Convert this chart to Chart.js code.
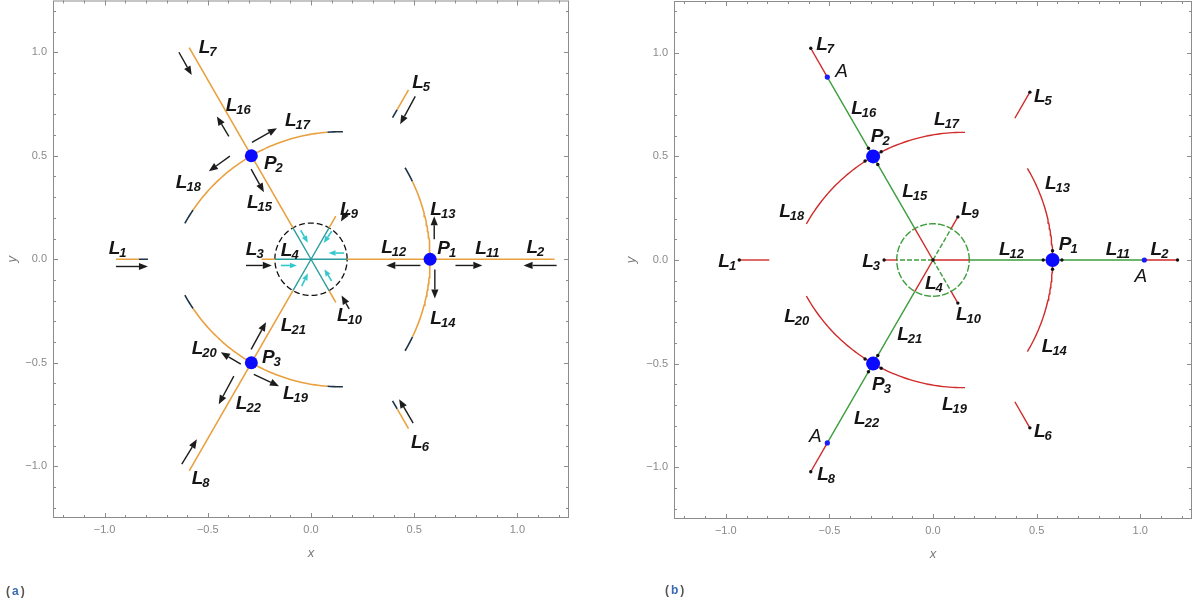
<!DOCTYPE html>
<html>
<head>
<meta charset="utf-8">
<script src="https://cdn.jsdelivr.net/npm/chart.js@4.4.1/dist/chart.umd.min.js"></script>
<style>
  body { margin:0; background:#fff; width:1203px; height:606px; overflow:hidden; position:relative; font-family:"Liberation Sans", Arial, sans-serif; }
  #boxA { position:absolute; left:0; top:-6px; width:600px; height:612px; }
  #boxB { position:absolute; left:600px; top:-6px; width:603px; height:612px; }
  .tag { position:absolute; font-size:12px; font-weight:bold; color:#555; letter-spacing:2px; }
  .tag b { color:#3a6bb0; }
</style>
</head>
<body>
<div id="boxA"><canvas id="chartA" width="600" height="612"></canvas></div>
<div id="boxB"><canvas id="chartB" width="603" height="612"></canvas></div>
<div class="tag" style="left:6px;top:584px">(<b>a</b>)</div>
<div class="tag" style="left:665px;top:583px">(<b>b</b>)</div>
<script>
// axis ticks
const majorTicks = [-1, -0.5, 0, 0.5, 1];
const minorTicks = [-1.2, -1.1, -0.9, -0.8, -0.7, -0.6, -0.4, -0.3, -0.2, -0.1,
                    0.1, 0.2, 0.3, 0.4, 0.6, 0.7, 0.8, 0.9, 1.1, 1.2];

// equilibrium points and A points
const pointsP = [[0.577, 0], [-0.289, 0.5], [-0.289, -0.5]];
const pointsA = [[1.02, 0], [-0.51, 0.883], [-0.51, -0.883]];
const innerCircle = { cx: 0, cy: 0, r: 0.175 };

// arcs through P1, P2, P3 (centre, radius, angle range in degrees)
const arcs = [
  { cx: -0.289, cy: 0, r: 0.866, start: -30.7, end: 30.7 },
  { cx: 0.144, cy: -0.25, r: 0.866, start: 89.3, end: 150.7 },
  { cx: 0.144, cy: 0.25, r: 0.866, start: 209.3, end: 270.7 }
];
const arcTip = 5; // dark tip of arcs in (a), degrees

// panel (a) segments
const orangeA = [
  [[0.175, 0], [1.18, 0]],
  [[-0.0875, 0.1516], [-0.59, 1.022]],
  [[-0.0875, -0.1516], [-0.59, -1.022]],
  [[-0.24, 0], [-0.175, 0]],
  [[0.0875, 0.1516], [0.12, 0.208]],
  [[0.0875, -0.1516], [0.12, -0.208]],
  [[-0.945, 0], [-0.835, 0]],
  [[0.4725, 0.818], [0.4175, 0.723]],
  [[0.4725, -0.818], [0.4175, -0.723]]
];
const darkA = [
  [[-0.835, 0], [-0.79, 0]],
  [[0.4175, 0.723], [0.395, 0.684]],
  [[0.4175, -0.723], [0.395, -0.684]]
];
const tealA = [
  [[0, 0], [0.175, 0]], [[0, 0], [0.0875, 0.1516]], [[0, 0], [-0.0875, 0.1516]],
  [[0, 0], [-0.175, 0]], [[0, 0], [-0.0875, -0.1516]], [[0, 0], [0.0875, -0.1516]]
];
const arrowsA = [
  [-0.945, -0.035, -0.79, -0.035], [-0.315, -0.03, -0.19, -0.03],
  [0.53, -0.03, 0.365, -0.03], [0.70, -0.03, 0.83, -0.03], [1.19, -0.03, 1.03, -0.03],
  [0.597, 0.097, 0.597, 0.208], [0.6, -0.05, 0.6, -0.19],
  [0.505, 0.787, 0.432, 0.652], [0.495, -0.792, 0.427, -0.676],
  [-0.64, 1.0, -0.578, 0.89], [-0.398, 0.594, -0.456, 0.69],
  [-0.286, 0.565, -0.165, 0.633], [-0.393, 0.498, -0.495, 0.425],
  [-0.29, 0.435, -0.228, 0.324], [-0.29, -0.435, -0.218, -0.304],
  [-0.34, -0.507, -0.437, -0.449], [-0.277, -0.556, -0.155, -0.613],
  [-0.374, -0.565, -0.447, -0.70], [-0.626, -0.99, -0.553, -0.87],
  [0.18, 0.24, 0.145, 0.182], [0.185, -0.24, 0.148, -0.175]
];
const cyanArrowsA = [
  [-0.146, -0.03, -0.068, -0.03], [-0.05, 0.14, -0.015, 0.08],
  [0.1, 0.135, 0.062, 0.078], [0.16, 0.03, 0.085, 0.03],
  [0.1, -0.105, 0.065, -0.048], [-0.045, -0.13, -0.015, -0.068]
];
const labelsA = [
  ['L', '7', -0.544, 1.03], ['L', '16', -0.413, 0.749], ['L', '17', -0.126, 0.676],
  ['P', '2', -0.228, 0.469], ['L', '18', -0.655, 0.377], ['L', '15', -0.31, 0.28],
  ['L', '1', -0.98, 0.058], ['L', '3', -0.316, 0.055], ['L', '4', -0.146, 0.05],
  ['L', '9', 0.141, 0.25], ['L', '5', 0.49, 0.86], ['L', '13', 0.578, 0.25],
  ['L', '12', 0.34, 0.063], ['P', '1', 0.612, 0.058], ['L', '11', 0.796, 0.058],
  ['L', '2', 1.044, 0.063], ['L', '10', 0.126, -0.266], ['L', '14', 0.578, -0.28],
  ['L', '21', -0.146, -0.314], ['L', '19', -0.136, -0.642], ['L', '6', 0.485, -0.88],
  ['L', '20', -0.578, -0.425], ['P', '3', -0.238, -0.468], ['L', '22', -0.364, -0.69],
  ['L', '8', -0.578, -1.053]
];

// panel (b) segments
const redB = [
  [[0, 0], [0.175, 0]], [[0, 0], [-0.0875, 0.1516]], [[0, 0], [-0.0875, -0.1516]],
  [[1.02, 0], [1.18, 0]], [[-0.51, 0.883], [-0.59, 1.022]], [[-0.51, -0.883], [-0.59, -1.022]],
  [[-0.175, 0], [-0.236, 0]], [[0.0875, 0.1516], [0.12, 0.208]], [[0.0875, -0.1516], [0.12, -0.208]],
  [[-0.79, 0], [-0.935, 0]], [[0.395, 0.684], [0.4675, 0.81]], [[0.395, -0.684], [0.4675, -0.81]]
];
const greenB = [
  [[0.175, 0], [1.02, 0]], [[-0.0875, 0.1516], [-0.51, 0.883]], [[-0.0875, -0.1516], [-0.51, -0.883]]
];
const greenDashB = [
  [[0, 0], [-0.175, 0]], [[0, 0], [0.0875, 0.1516]], [[0, 0], [0.0875, -0.1516]]
];
const dotsB = [
  [-0.59, 1.022], [-0.59, -1.022], [1.18, 0], [-0.935, 0], [0.4675, 0.81], [0.4675, -0.81],
  [-0.236, 0], [0.12, 0.208], [0.12, -0.208], [0, 0],
  [0.532, 0], [0.622, 0], [0.577, 0.045], [0.577, -0.045],
  [-0.3115, 0.539], [-0.2665, 0.461], [-0.25, 0.5225], [-0.328, 0.4775],
  [-0.3115, -0.539], [-0.2665, -0.461], [-0.25, -0.5225], [-0.328, -0.4775]
];
const labelsB = [
  ['L', '7', -0.564, 1.048], ['L', '16', -0.395, 0.74], ['P', '2', -0.3, 0.604],
  ['L', '18', -0.742, 0.242], ['L', '1', -1.036, 0], ['L', '3', -0.342, 0],
  ['L', '17', 0.005, 0.686], ['L', '5', 0.487, 0.797], ['L', '15', -0.149, 0.338],
  ['L', '13', 0.54, 0.377], ['L', '9', 0.135, 0.25], ['L', '12', 0.318, 0.058],
  ['P', '1', 0.607, 0.082], ['L', '11', 0.834, 0.058], ['L', '2', 1.05, 0.058],
  ['L', '4', -0.039, -0.106], ['L', '10', 0.111, -0.256], ['L', '21', -0.173, -0.353],
  ['L', '14', 0.525, -0.411], ['L', '19', 0.043, -0.691], ['L', '6', 0.487, -0.821],
  ['L', '20', -0.718, -0.266], ['P', '3', -0.294, -0.594], ['L', '22', -0.381, -0.758],
  ['L', '8', -0.559, -1.029]
];
const labelsAB = [['A', -0.472, 0.918], ['A', 0.973, -0.072], ['A', -0.598, -0.845]];

const FONT = '"Liberation Sans", Arial, sans-serif';
const ORANGE = '#e9a140';
const TEAL = '#2a9c9c';
const DARK = '#1d3346';
const RED = '#d02a2a';
const GREEN = '#3c9e3c';

const xy = p => ({ x: p[0], y: p[1] });

function arcPoints(a, from, to) {
  const pts = [];
  const n = Math.max(2, Math.ceil(Math.abs(to - from)));
  for (let i = 0; i <= n; i++) {
    const t = (from + (to - from) * i / n) * Math.PI / 180;
    pts.push({ x: a.cx + a.r * Math.cos(t), y: a.cy + a.r * Math.sin(t) });
  }
  return pts;
}

function lineSet(data, color, width, dash) {
  return {
    type: 'scatter', data: data, showLine: true, borderColor: color, borderWidth: width,
    borderDash: dash || [], pointRadius: 0, fill: false, tension: 0
  };
}

function pointSet(data, color, radius) {
  return {
    type: 'scatter', data: data, showLine: false, backgroundColor: color,
    borderWidth: 0, pointRadius: radius, pointHoverRadius: radius
  };
}

function fmt(v) {
  return v.toFixed(1).replace('-', '\u2212');
}

function drawLabel(ctx, x, y, main, sub) {
  ctx.save();
  ctx.fillStyle = '#151515';
  ctx.textBaseline = 'alphabetic';
  ctx.textAlign = 'left';
  ctx.font = 'italic bold 19px ' + FONT;
  const base = y + 7;
  ctx.fillText(main, x, base);
  const w = ctx.measureText(main).width;
  ctx.font = 'italic bold 13px ' + FONT;
  ctx.fillText(sub, x + w - 1, base + 3);
  ctx.restore();
}

function drawArrow(ctx, x0, y0, x1, y1, color, head, width) {
  const dx = x1 - x0, dy = y1 - y0;
  const len = Math.hypot(dx, dy);
  const ux = dx / len, uy = dy / len;
  const bx = x1 - ux * head, by = y1 - uy * head;
  ctx.save();
  ctx.strokeStyle = color;
  ctx.fillStyle = color;
  ctx.lineWidth = width;
  ctx.beginPath();
  ctx.moveTo(x0, y0);
  ctx.lineTo(bx, by);
  ctx.stroke();
  ctx.beginPath();
  ctx.moveTo(x1, y1);
  ctx.lineTo(bx - uy * head * 0.4, by + ux * head * 0.4);
  ctx.lineTo(bx + uy * head * 0.4, by - ux * head * 0.4);
  ctx.closePath();
  ctx.fill();
  ctx.restore();
}

function overlay(cfg) {
  return {
    id: 'overlay',
    afterDraw(chart) {
      const { ctx, chartArea: a, scales: { x, y } } = chart;
      const px = v => x.getPixelForValue(v), py = v => y.getPixelForValue(v);
      // frame with inward ticks on all sides
      ctx.save();
      ctx.strokeStyle = '#8c8c8c';
      ctx.lineWidth = 1;
      ctx.strokeRect(a.left + 0.5, a.top + 0.5, a.right - a.left - 1, a.bottom - a.top - 1);
      ctx.beginPath();
      [[majorTicks, 5], [minorTicks, 3]].forEach(([list, len]) => {
        list.forEach(v => {
          const X = Math.round(px(v)) + 0.5, Y = Math.round(py(v)) + 0.5;
          ctx.moveTo(X, a.bottom); ctx.lineTo(X, a.bottom - len);
          ctx.moveTo(X, a.top); ctx.lineTo(X, a.top + len);
          ctx.moveTo(a.left, Y); ctx.lineTo(a.left + len, Y);
          ctx.moveTo(a.right, Y); ctx.lineTo(a.right - len, Y);
        });
      });
      ctx.stroke();
      ctx.restore();

      (cfg.arrows || []).forEach(r => drawArrow(ctx, px(r[0]), py(r[1]), px(r[2]), py(r[3]), '#1c1c1c', 9, 1.4));
      (cfg.cyanArrows || []).forEach(r => drawArrow(ctx, px(r[0]), py(r[1]), px(r[2]), py(r[3]), '#33c9cc', 7, 1.6));
      cfg.labels.forEach(l => drawLabel(ctx, px(l[2]), py(l[3]), l[0], l[1]));
      (cfg.plain || []).forEach(l => {
        ctx.save();
        ctx.fillStyle = '#151515';
        ctx.font = 'italic 19px ' + FONT;
        ctx.textBaseline = 'alphabetic';
        ctx.fillText(l[0], px(l[1]), py(l[2]) + 7);
        ctx.restore();
      });
    }
  };
}

function scales(yWidth) {
  const tickFont = { family: FONT, size: 11 };
  const titleFont = { family: FONT, size: 13, style: 'italic' };
  return {
    x: {
      type: 'linear', position: 'bottom', min: -1.25, max: 1.25,
      afterBuildTicks: s => { s.ticks = majorTicks.map(v => ({ value: v })); },
      afterFit: s => { s.height = 43; s.paddingLeft = 0; s.paddingRight = 0; },
      grid: { display: false, drawTicks: false }, border: { display: false },
      ticks: { color: '#8a8a8a', font: tickFont, padding: 5, autoSkip: false, maxRotation: 0, callback: fmt },
      title: { display: true, text: 'x', color: '#777', font: titleFont, padding: 0 }
    },
    y: {
      type: 'linear', position: 'left', min: -1.25, max: 1.25,
      afterBuildTicks: s => { s.ticks = majorTicks.map(v => ({ value: v })); },
      afterFit: s => { s.width = yWidth; s.paddingTop = 0; s.paddingBottom = 0; },
      grid: { display: false, drawTicks: false }, border: { display: false },
      ticks: { color: '#8a8a8a', font: tickFont, padding: 6, autoSkip: false, callback: fmt },
      title: { display: true, text: 'y', color: '#777', font: titleFont, padding: 0 }
    }
  };
}

function baseOptions(padding, yWidth) {
  return {
    responsive: false, animation: false, events: [],
    layout: { padding: padding },
    plugins: { legend: { display: false }, tooltip: { enabled: false } },
    scales: scales(yWidth)
  };
}

// ---------- panel (a) ----------
const setsA = [pointSet(pointsP.map(xy), '#0a0aff', 6.5)];
orangeA.forEach(s => setsA.push(lineSet(s.map(xy), ORANGE, 1.6)));
darkA.forEach(s => setsA.push(lineSet(s.map(xy), DARK, 1.6)));
tealA.forEach(s => setsA.push(lineSet(s.map(xy), TEAL, 1.4)));
arcs.forEach(a => {
  setsA.push(lineSet(arcPoints(a, a.start + arcTip, a.end - arcTip), ORANGE, 1.6));
  setsA.push(lineSet(arcPoints(a, a.start, a.start + arcTip), DARK, 1.6));
  setsA.push(lineSet(arcPoints(a, a.end - arcTip, a.end), DARK, 1.6));
});
setsA.push(lineSet(arcPoints(innerCircle, 0, 360), '#111', 1.3, [6, 3]));

new Chart(document.getElementById('chartA'), {
  type: 'scatter',
  data: { datasets: setsA },
  options: baseOptions({ left: 5, right: 31, top: 1, bottom: 45 }, 48),
  plugins: [overlay({ arrows: arrowsA, cyanArrows: cyanArrowsA, labels: labelsA })]
});

// ---------- panel (b) ----------
const setsB = [
  pointSet(pointsP.map(xy), '#0a0aff', 7),
  pointSet(pointsA.map(xy), '#1a1aff', 2.6),
  pointSet(dotsB.map(xy), '#111', 1.7)
];
redB.forEach(s => setsB.push(lineSet(s.map(xy), RED, 1.4)));
greenB.forEach(s => setsB.push(lineSet(s.map(xy), GREEN, 1.4)));
greenDashB.forEach(s => setsB.push(lineSet(s.map(xy), GREEN, 1.4, [5, 2])));
arcs.forEach(a => setsB.push(lineSet(arcPoints(a, a.start, a.end), RED, 1.4)));
setsB.push(lineSet(arcPoints(innerCircle, 0, 360), GREEN, 1.4, [7, 2]));

new Chart(document.getElementById('chartB'), {
  type: 'scatter',
  data: { datasets: setsB },
  options: baseOptions({ left: 24, right: 11, top: 1, bottom: 44 }, 50),
  plugins: [overlay({ labels: labelsB, plain: labelsAB })]
});
</script>
</body>
</html>
